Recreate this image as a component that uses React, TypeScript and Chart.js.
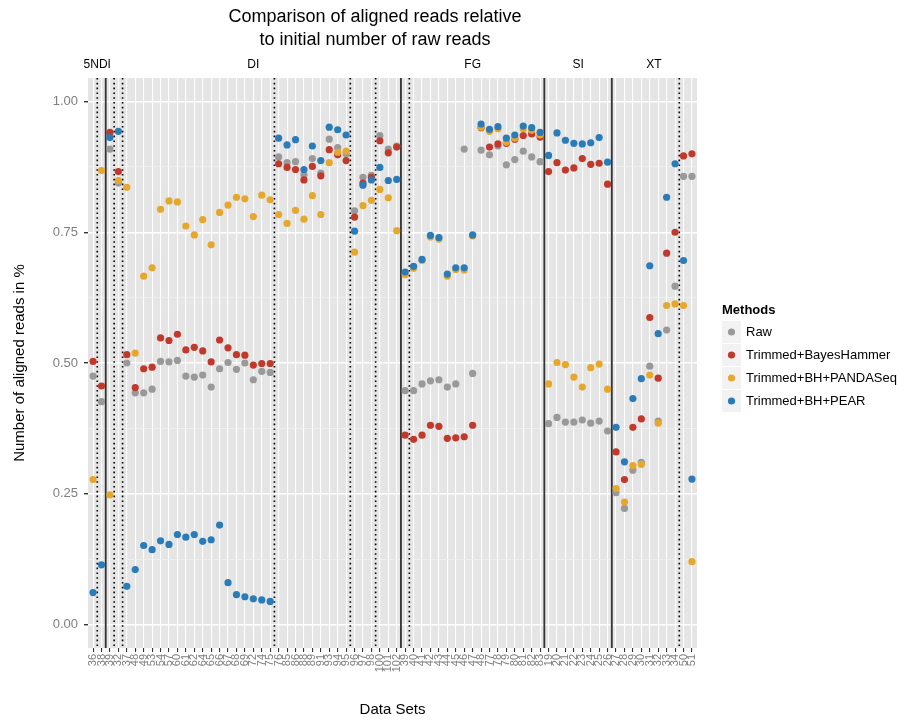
import React, { useEffect, useRef } from "react";
import { Chart, registerables } from "chart.js";

Chart.register(...registerables);

const FONT = "'Liberation Sans', Arial, sans-serif";

// x categories (data set ids), in plot order
const dataSets = [
  "36", "38",
  "39", "32", "37", "48", "49", "53", "54", "57", "60", "61", "62", "64", "65", "66", "67", "68", "69",
  "72", "74", "75", "76", "85", "86", "88", "89", "91", "93", "94", "95", "96", "97", "98", "100", "101", "102",
  "39", "40", "41", "42", "43", "44", "45", "46", "47", "48", "77", "78", "79", "80", "81", "82", "83",
  "19", "20", "21", "22", "23", "24", "25", "26",
  "27", "28", "29", "30", "31", "32", "33", "34", "50", "51",
];

// groups shown above the panel (first / last category index)
const groupNames = ["5NDI", "DI", "FG", "SI", "XT"];
const groupFirst = [0, 2, 37, 54, 62];
const groupLast = [1, 36, 53, 61, 71];
// dotted separators come after these category indexes
const dottedAfter = [0, 2, 3, 21, 30, 33, 37, 69];

const yTicks = [0, 0.25, 0.5, 0.75, 1.0];

const methods = ["Raw", "Trimmed+BayesHammer", "Trimmed+BH+PANDASeq", "Trimmed+BH+PEAR"];
const colors = ["#999999", "#C0392B", "#E6A82C", "#2A7CB8"];

const raw = [
  0.475, 0.426, 0.909, 0.844, 0.5, 0.443, 0.443, 0.45, 0.503, 0.502, 0.505, 0.475, 0.473, 0.477, 0.454, 0.489,
  0.501, 0.488, 0.5, 0.468, 0.484, 0.482, 0.894, 0.883, 0.885, 0.86, 0.891, 0.863, 0.928, 0.912, 0.9, 0.791,
  0.855, 0.859, 0.935, 0.909, 0.915, 0.447, 0.447, 0.46, 0.466, 0.468, 0.454, 0.46, 0.909, 0.48, 0.907, 0.898,
  0.915, 0.879, 0.889, 0.905, 0.894, 0.885, 0.384, 0.396, 0.387, 0.387, 0.391, 0.385, 0.389, 0.37, 0.252, 0.222,
  0.295, 0.31, 0.494, 0.389, 0.563, 0.647, 0.857, 0.857,
];
const trimmedBH = [
  0.503, 0.456, 0.941, 0.866, 0.516, 0.453, 0.489, 0.492, 0.548, 0.543, 0.555, 0.525, 0.53, 0.523, 0.502, 0.544,
  0.529, 0.516, 0.515, 0.496, 0.499, 0.499, 0.881, 0.874, 0.87, 0.85, 0.876, 0.858, 0.908, 0.898, 0.887, 0.779,
  0.844, 0.855, 0.925, 0.902, 0.913, 0.362, 0.354, 0.362, 0.381, 0.379, 0.356, 0.357, 0.359, 0.381, 0.95, 0.913,
  0.919, 0.92, 0.928, 0.935, 0.938, 0.932, 0.866, 0.883, 0.869, 0.873, 0.891, 0.88, 0.882, 0.842, 0.33, 0.277,
  0.377, 0.393, 0.587, 0.471, 0.71, 0.75, 0.896, 0.9,
];
const trimmedPandaseq = [
  0.277, 0.868, 0.248, 0.849, 0.836, 0.519, 0.666, 0.682, 0.794, 0.81, 0.808, 0.762, 0.745, 0.774, 0.726, 0.788,
  0.802, 0.817, 0.814, 0.78, 0.821, 0.812, 0.784, 0.767, 0.792, 0.775, 0.82, 0.784, 0.883, 0.903, 0.905, 0.712,
  0.801, 0.811, 0.832, 0.816, 0.753, 0.669, 0.681, 0.696, 0.741, 0.737, 0.666, 0.679, 0.678, 0.743, 0.951, 0.943,
  0.948, 0.922, 0.93, 0.948, 0.945, 0.936, 0.46, 0.501, 0.497, 0.473, 0.454, 0.491, 0.498, 0.45, 0.26, 0.234,
  0.304, 0.306, 0.477, 0.385, 0.61, 0.613, 0.61, 0.12,
];
const trimmedPear = [
  0.061, 0.114, 0.931, 0.943, 0.073, 0.105, 0.151, 0.143, 0.16, 0.153, 0.172, 0.167, 0.172, 0.159, 0.162, 0.19,
  0.08, 0.057, 0.053, 0.049, 0.047, 0.044, 0.93, 0.917, 0.927, 0.87, 0.915, 0.887, 0.951, 0.946, 0.936, 0.752,
  0.84, 0.85, 0.874, 0.849, 0.851, 0.674, 0.685, 0.698, 0.744, 0.74, 0.67, 0.682, 0.682, 0.745, 0.957, 0.947,
  0.952, 0.93, 0.936, 0.953, 0.95, 0.941, 0.897, 0.94, 0.926, 0.92, 0.919, 0.921, 0.931, 0.884, 0.377, 0.311,
  0.432, 0.47, 0.686, 0.556, 0.817, 0.881, 0.696, 0.278,
];

const series = [raw, trimmedBH, trimmedPandaseq, trimmedPear];

const isMajor = (v: number) => yTicks.some((t) => Math.abs(t - v) < 1e-6);

const decor = {
  id: "decor",
  beforeDraw(chart: any) {
    const { ctx, chartArea: a } = chart;
    ctx.save();
    ctx.fillStyle = "#E5E5E5";
    ctx.fillRect(a.left, a.top, a.right - a.left, a.bottom - a.top);
    ctx.restore();
  },
  beforeDatasetsDraw(chart: any) {
    const { ctx, chartArea: a, scales } = chart;
    const x = scales.x;
    ctx.save();
    ctx.strokeStyle = "#333333";
    ctx.lineWidth = 1.8;
    groupLast.slice(0, -1).forEach((e) => {
      const px = x.getPixelForValue(e + 0.5);
      ctx.beginPath();
      ctx.moveTo(px, a.top);
      ctx.lineTo(px, a.bottom);
      ctx.stroke();
    });
    ctx.strokeStyle = "#000000";
    ctx.lineWidth = 1.6;
    ctx.setLineDash([1.6, 3.2]);
    dottedAfter.forEach((e) => {
      const px = x.getPixelForValue(e + 0.5);
      ctx.beginPath();
      ctx.moveTo(px, a.top);
      ctx.lineTo(px, a.bottom);
      ctx.stroke();
    });
    ctx.restore();
  },
  afterDraw(chart: any) {
    const { ctx, chartArea: a, scales } = chart;
    const x = scales.x;
    ctx.save();
    ctx.fillStyle = "#000000";
    ctx.textBaseline = "middle";
    ctx.textAlign = "center";

    // title
    ctx.font = `18px ${FONT}`;
    ctx.fillText("Comparison of aligned reads relative", 375, 17);
    ctx.fillText("to initial number of raw reads", 375, 40);

    // group labels
    ctx.font = `12px ${FONT}`;
    groupNames.forEach((g, i) => {
      const c = x.getPixelForValue((groupFirst[i] + groupLast[i]) / 2);
      ctx.fillText(g, c, a.top - 13);
    });

    // legend
    ctx.textAlign = "left";
    ctx.font = `bold 13px ${FONT}`;
    ctx.fillText("Methods", 722, 310);
    ctx.font = `13px ${FONT}`;
    methods.forEach((m, i) => {
      const cy = 332 + i * 23;
      ctx.fillStyle = "#F2F2F2";
      ctx.fillRect(722, cy - 11, 19, 22);
      ctx.fillStyle = colors[i];
      ctx.beginPath();
      ctx.arc(731.5, cy, 3.6, 0, Math.PI * 2);
      ctx.fill();
      ctx.fillStyle = "#000000";
      ctx.fillText(m, 746, cy);
    });
    ctx.restore();
  },
};

function AlignedReadsChart(): JSX.Element {
  const chartRef = useRef<HTMLCanvasElement | null>(null);
  const chartInstance = useRef<Chart | null>(null);

  useEffect(() => {
    if (!chartRef.current) return;
    if (chartInstance.current) chartInstance.current.destroy();

    Chart.defaults.font.family = FONT;

    const minor = yTicks.slice(0, -1).map((t, i) => (t + yTicks[i + 1]) / 2);
    const yGrid = [...yTicks, ...minor].sort((p, q) => p - q);

    chartInstance.current = new Chart(chartRef.current, {
      type: "scatter",
      data: {
        datasets: methods.map((m, i) => ({
          label: m,
          data: series[i].map((v, j) => ({ x: j, y: v })),
          backgroundColor: colors[i],
          borderWidth: 0,
          pointRadius: 3.6,
          order: methods.length - i,
        })),
      },
      options: {
        responsive: false,
        animation: false,
        events: [],
        layout: { padding: { left: 0, right: 226, top: 78, bottom: 0 } },
        plugins: {
          legend: { display: false },
          tooltip: { enabled: false },
          title: { display: false },
        },
        scales: {
          x: {
            type: "linear",
            min: -0.6,
            max: dataSets.length - 0.4,
            afterBuildTicks: (s: any) => {
              s.ticks = dataSets.map((_, i) => ({ value: i }));
            },
            afterFit: (s: any) => {
              s.height = 76;
            },
            border: { display: false },
            grid: { color: "#FFFFFF", lineWidth: 1.1, tickColor: "#333333", tickLength: 4 },
            ticks: {
              autoSkip: false,
              maxRotation: 90,
              minRotation: 90,
              padding: 2,
              color: "#7F7F7F",
              font: { size: 11 },
              callback: (v: any) => dataSets[v] ?? "",
            },
            title: {
              display: true,
              text: "Data Sets",
              color: "#000000",
              font: { size: 15 },
              padding: { top: 0, bottom: 5 },
            },
          },
          y: {
            min: -0.045,
            max: 1.045,
            afterBuildTicks: (s: any) => {
              s.ticks = yGrid.map((v) => ({ value: v }));
            },
            afterFit: (s: any) => {
              s.width = 88;
            },
            border: { display: false },
            grid: {
              color: (c: any) => (isMajor(c.tick.value) ? "#FFFFFF" : "#F2F2F2"),
              lineWidth: (c: any) => (isMajor(c.tick.value) ? 1.4 : 0.7),
              tickColor: (c: any) => (isMajor(c.tick.value) ? "#333333" : "rgba(0,0,0,0)"),
              tickLength: 4,
            },
            ticks: {
              padding: 6,
              color: "#7F7F7F",
              font: { size: 13 },
              callback: (v: any) => (isMajor(v) ? Number(v).toFixed(2) : ""),
            },
            title: {
              display: true,
              text: "Number of aligned reads in %",
              color: "#000000",
              font: { size: 15 },
              padding: { top: 11, bottom: 0 },
            },
          },
        },
      },
      plugins: [decor],
    });

    return () => {
      if (chartInstance.current) {
        chartInstance.current.destroy();
        chartInstance.current = null;
      }
    };
  }, []);

  return (
    <div style={{ position: "absolute", left: 0, top: 0, width: 923, height: 724, background: "#FFFFFF" }}>
      <canvas ref={chartRef} width={923} height={724}></canvas>
    </div>
  );
}

export default function App(): JSX.Element {
  return <AlignedReadsChart />;
}
